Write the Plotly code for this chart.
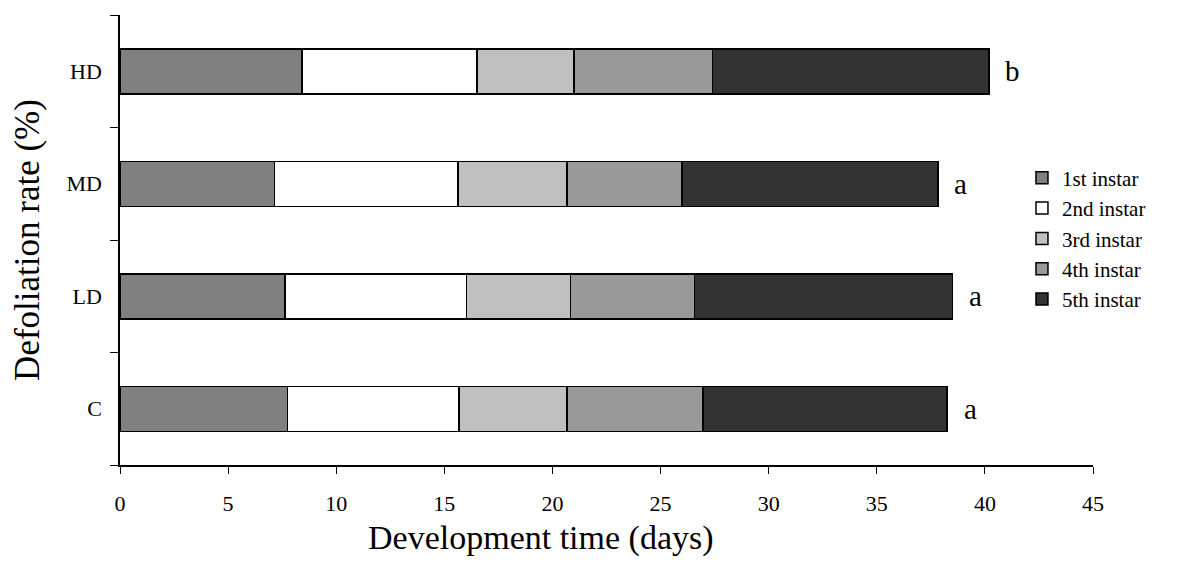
import plotly.graph_objects as go

categories = ["C", "LD", "MD", "HD"]
stages = ["1st instar", "2nd instar", "3rd instar", "4th instar", "5th instar"]
instar1 = [7.75, 7.63, 7.15, 8.41]
instar2 = [7.92, 8.40, 8.49, 8.09]
instar3 = [5.01, 4.81, 5.04, 4.50]
instar4 = [6.29, 5.74, 5.32, 6.40]
instar5 = [11.28, 11.92, 11.83, 12.80]
letters = ["a", "a", "a", "b"]

series = [instar1, instar2, instar3, instar4, instar5]
colors = ["#808080", "#ffffff", "#c0c0c0", "#999999", "#333333"]

FONT = "Liberation Serif, Times New Roman, serif"

fig = go.Figure()
for i, (name, vals) in enumerate(zip(stages, series)):
    fig.add_trace(go.Bar(
        y=categories, x=vals, name=name, orientation="h",
        marker=dict(color=colors[i], line=dict(color="#000000", width=1.5)),
        legendgroup=name,
    ))

totals = [sum(v) for v in zip(*series)]
for cat, tot, lab in zip(categories, totals, letters):
    fig.add_annotation(x=tot, y=cat, text=lab, showarrow=False, xanchor="center",
                       xshift=23, font=dict(family=FONT, size=29, color="#000000"))

# x-axis title (placed left of centre, as in the original)
fig.add_annotation(text="Development time (days)", xref="paper", yref="paper",
                   x=0.433, y=-0.162, xanchor="center", yanchor="middle", showarrow=False,
                   font=dict(family=FONT, size=34, color="#000000"))

fig.update_layout(
    barmode="stack", bargap=0.6,
    width=1182, height=563,
    margin=dict(l=112, r=97, t=7, b=106),
    plot_bgcolor="white", paper_bgcolor="white",
    font=dict(family=FONT, size=22, color="#000000"),
    legend=dict(x=0.927, y=0.683, xanchor="left", yanchor="top",
                traceorder="grouped", tracegroupgap=0,
                font=dict(family=FONT, size=21, color="#000000"),
                itemwidth=30),
    xaxis=dict(range=[0, 45], dtick=5, showgrid=False, zeroline=False,
               showline=True, linecolor="#000000", linewidth=1.5,
               ticks="outside", ticklen=7, tickcolor="#000000",
               ticklabelstandoff=11,
               tickfont=dict(family=FONT, size=22)),
    yaxis=dict(showgrid=False, zeroline=False, showline=True, linecolor="#000000", linewidth=1.5,
               ticks="outside", ticklen=8, tickcolor="#000000", tickson="boundaries",
               categoryorder="array", categoryarray=categories,
               ticklabelstandoff=12,
               tickfont=dict(family=FONT, size=22),
               title=dict(text="Defoliation rate (%)", font=dict(family=FONT, size=35), standoff=20)),
)

fig.write_html("out.html")
